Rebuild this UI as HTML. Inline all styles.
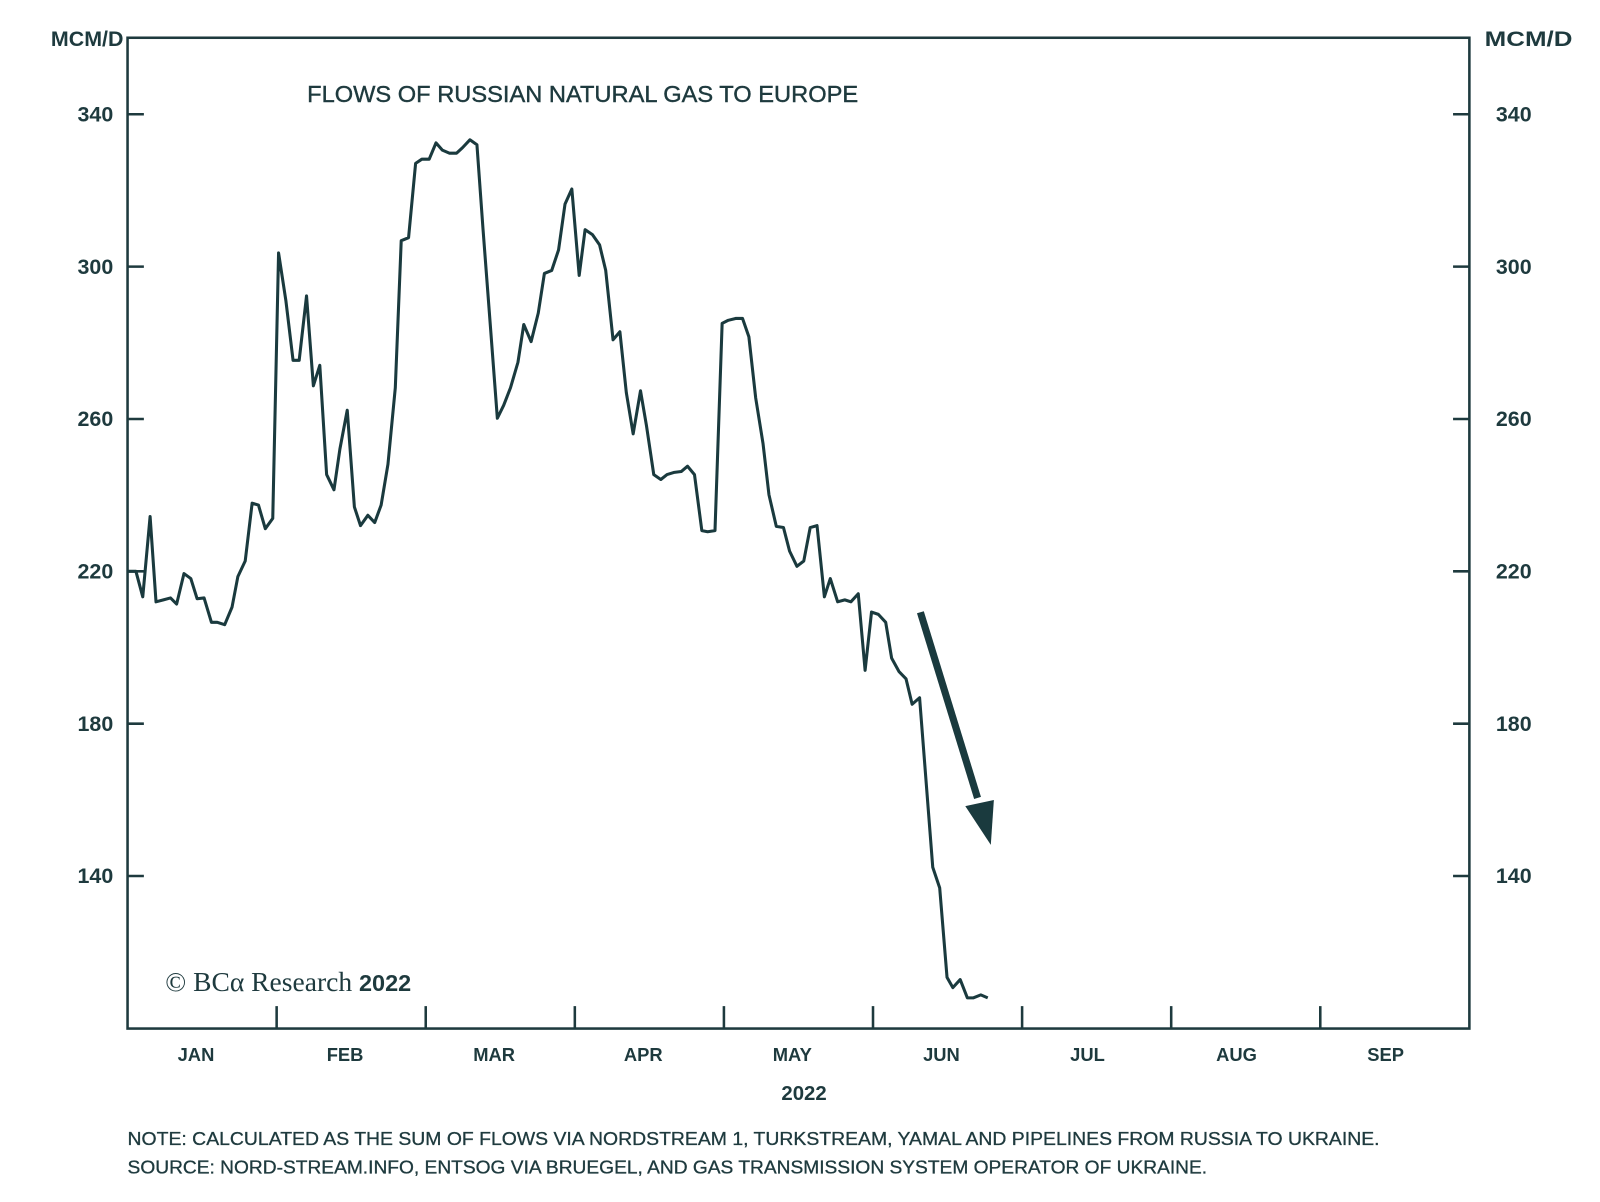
<!DOCTYPE html>
<html><head><meta charset="utf-8"><style>
html,body{margin:0;padding:0;background:#fff;}
svg{display:block;font-family:"Liberation Sans",sans-serif;}
</style></head><body>
<svg id="chart" width="1600" height="1202" viewBox="0 0 1600 1202" xmlns="http://www.w3.org/2000/svg">
<rect width="1600" height="1202" fill="#fff"/>
<g transform="scale(1.0204)">
<g id="axes"></g>
<g id="series"></g>
<text x="301" y="100" font-size="22.5" fill="#1e3a3e" stroke="#1e3a3e" stroke-width="0.4" textLength="540" lengthAdjust="spacingAndGlyphs">FLOWS OF RUSSIAN NATURAL GAS TO EUROPE</text>
<text x="121" y="45" text-anchor="end" font-size="21" font-weight="bold" fill="#1e3a3e">MCM/D</text>
<text x="1455" y="45" font-size="21" font-weight="bold" fill="#1e3a3e" textLength="86" lengthAdjust="spacingAndGlyphs">MCM/D</text>
<rect x="156" y="944" width="300" height="36" fill="#fff"/>
<text x="162" y="971" font-family="Liberation Serif,serif" font-size="27" fill="#1e3a3e">© BCα Research <tspan font-family="Liberation Sans,sans-serif" font-weight="bold" font-size="23">2022</tspan></text>
<text x="788" y="1078" text-anchor="middle" font-size="20" font-weight="bold" fill="#1e3a3e">2022</text>
<text x="125" y="1122" font-size="18" fill="#1e3a3e" stroke="#1e3a3e" stroke-width="0.3" textLength="1227" lengthAdjust="spacingAndGlyphs">NOTE: CALCULATED AS THE SUM OF FLOWS VIA NORDSTREAM 1, TURKSTREAM, YAMAL AND PIPELINES FROM RUSSIA TO UKRAINE.</text>
<text x="125" y="1150" font-size="18" fill="#1e3a3e" stroke="#1e3a3e" stroke-width="0.3" textLength="1058" lengthAdjust="spacingAndGlyphs">SOURCE: NORD-STREAM.INFO, ENTSOG VIA BRUEGEL, AND GAS TRANSMISSION SYSTEM OPERATOR OF UKRAINE.</text>
<g>
<line x1="902" y1="600" x2="958" y2="782" stroke="#1a3a3e" stroke-width="7"/>
<polygon points="946,790 974,784 971,828" fill="#1a3a3e"/>
</g>
</g>
</svg>
<script>
const yTicks = [140, 180, 220, 260, 300, 340];
const months = ["JAN","FEB","MAR","APR","MAY","JUN","JUL","AUG","SEP"];
const days = [0,1.7,3.1,4.6,5.8,7.3,8.75,10,11.5,12.9,14.2,15.6,17.1,18.3,19.8,21.3,22.5,24,25.4,26.7,28.1,29.6,30.8,32.3,33.75,35,36.5,37.9,39.2,40.6,42.1,43.3,44.8,46.25,47.5,49,50.4,51.7,53.1,54.6,55.8,57.3,58.75,60,61.5,62.9,64.2,65.6,67.1,68.3,69.8,71.25,72.5,74,75.4,76.7,78.1,79.6,80.8,82.3,83.75,85,86.5,87.9,89.2,90.6,92.1,93.3,94.8,96.25,97.5,99,100.4,101.7,103.1,104.6,105.8,107.3,108.75,110,111.5,112.9,114.2,115.6,117.1,118.3,119.8,121.25,122.5,124,125.4,126.7,128.1,129.6,130.8,132.3,133.75,135,136.5,137.9,139.2,140.6,142.1,143.3,144.8,146.25,147.5,149,150.4,151.7,153.1,154.6,155.8,157.3,158.75,160,161.5,162.9,164.2,165.6,167.1,168.3,169.8,171.25,172.5,174,175.4];
const flows = [220,220,213.3,234.4,212,212.5,213,211.4,219.4,218.1,212.8,213,206.6,206.6,206,210.6,218.6,222.7,237.9,237.4,231.2,233.9,303.6,291,275.4,275.4,292.3,268.7,274.1,245.4,241.4,252.1,262.3,236.9,232,234.7,232.8,237.4,248.1,268.2,306.8,307.6,327.1,328.2,328.2,332.5,330.6,329.8,329.8,331.2,333.3,332,309.7,284.3,260.2,263.6,268.2,274.9,284.8,280.3,287.8,298.2,299,304.4,316.4,320.4,297.7,309.7,308.4,305.7,299,280.8,282.9,266.9,256.1,267.4,258.3,245.4,244.1,245.4,246,246.2,247.6,245.4,230.7,230.4,230.7,285.1,285.9,286.4,286.4,281.6,265.5,253.5,240.1,231.8,231.5,225.3,221.3,222.7,231.5,232,213.3,218.1,212,212.5,212,214.1,194,209.3,208.7,206.6,197.2,193.7,191.8,185.1,186.8,163.7,142.3,136.9,113.4,110.7,112.8,108,108,108.8,108];

const NS="http://www.w3.org/2000/svg";
const L=125,R=1440,T=37,B=1008,C="#1e3a3e";
const yScale=v=>112+(340-v)*(149.3/40);
const xScale=d=>L+d*(146.1/30.4);
const monthX=i=>L+i*(R-L)/9;
function mk(tag,attrs,parent){const e=document.createElementNS(NS,tag);for(const k in attrs)e.setAttribute(k,attrs[k]);parent.appendChild(e);return e;}
const axes=document.getElementById('axes');
const frame=mk('rect',{x:L,y:T,width:R-L,height:B-T,fill:'none',stroke:C,'stroke-width':2.5},axes);


yTicks.forEach(v=>{
  const y=yScale(v);
  const t1=mk('line',{x1:L,x2:L+16,y1:y,y2:y,stroke:C,'stroke-width':2.5},axes);
  
  
  const t2=mk('line',{x1:R-16,x2:R,y1:y,y2:y,stroke:C,'stroke-width':2.5},axes);
  
  
  const l1=mk('text',{x:111,y:y+7,'text-anchor':'end','font-size':21,'font-weight':'bold',fill:C},axes);
  l1.textContent=v;
  
  
  const l2=mk('text',{x:1466,y:y+7,'font-size':21,'font-weight':'bold',fill:C},axes);
  l2.textContent=v;
  
  
});
months.forEach((m,i)=>{
  if(i>0){
    const t=mk('line',{x1:monthX(i),x2:monthX(i),y1:B-22,y2:B,stroke:C,'stroke-width':2.5},axes);
    
    
  }
  const lx=(monthX(i)+monthX(i+1))/2-(i<6?6:9);
  const l=mk('text',{x:lx,y:1040,'text-anchor':'middle','font-size':18,'font-weight':'bold',fill:C},axes);
  l.textContent=m;
  
  
});
const pts=days.map((d,i)=>xScale(d).toFixed(1)+','+yScale(flows[i]).toFixed(1)).join(' ');
const line=mk('polyline',{points:pts,fill:'none',stroke:'#1a3a3e','stroke-width':3,'stroke-linejoin':'round'},document.getElementById('series'));


</script>
</body></html>
